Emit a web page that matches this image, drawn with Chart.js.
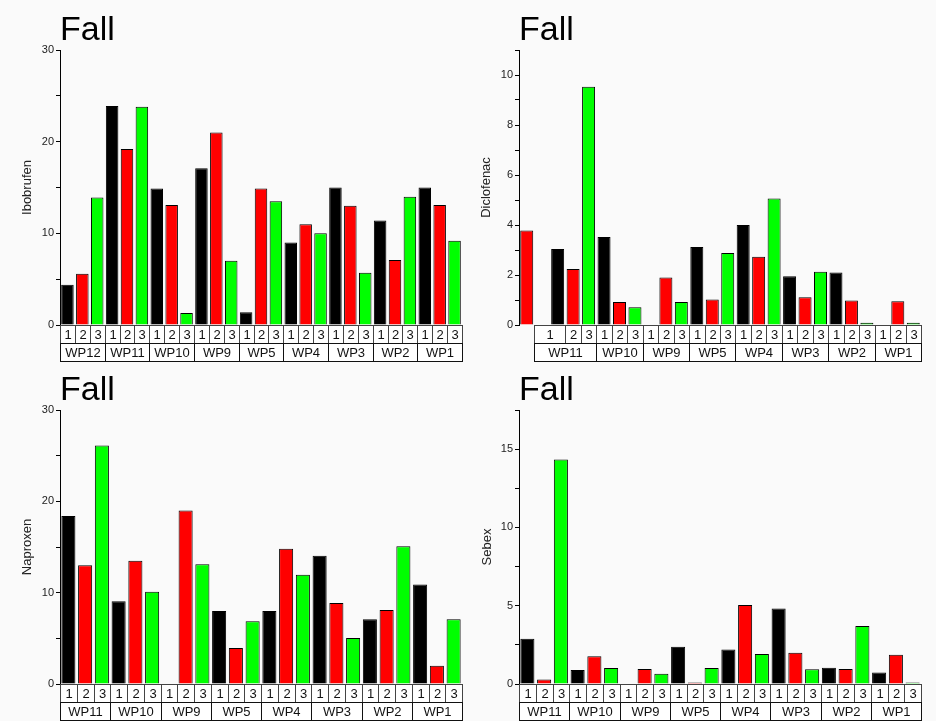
<!DOCTYPE html>
<html>
<head>
<meta charset="utf-8">
<script src="https://cdn.jsdelivr.net/npm/chart.js@4.4.1/dist/chart.umd.min.js"></script>
<style>
    body { margin: 0; background: #fafafa; }
    #page { position: relative; width: 936px; height: 721px; overflow: hidden; }
    canvas { position: absolute; }
</style>
</head>
<body>
<div id="page">
    <canvas id="ibuChart" width="470" height="362" style="left:0;top:0"></canvas>
    <canvas id="dicloChart" width="470" height="362" style="left:466px;top:0"></canvas>
    <canvas id="naproChart" width="470" height="361" style="left:0;top:360px"></canvas>
    <canvas id="sebexChart" width="470" height="361" style="left:466px;top:360px"></canvas>
</div>
<script>
// sampling sites and replicate numbers
var sites9 = ['WP12', 'WP11', 'WP10', 'WP9', 'WP5', 'WP4', 'WP3', 'WP2', 'WP1'];
var sites8 = ['WP11', 'WP10', 'WP9', 'WP5', 'WP4', 'WP3', 'WP2', 'WP1'];
var reps = ['1', '2', '3'];
var repColors = ['#000000', '#ff0000', '#00ff00'];

// values, three replicates per site, in the order of the sites
var ibuValues = [4.4, 5.6, 13.9, 23.9, 19.2, 23.8, 14.9, 13.1, 1.3, 17.1, 21.0, 7.0,
    1.4, 14.9, 13.5, 9.0, 11.0, 10.0, 15.0, 13.0, 5.7, 11.4, 7.1, 14.0, 15.0, 13.1, 9.2];
// two bars that stand in front of WP11 in the diclofenac plot
var dicloLead = [3.78, 0];
var dicloValues = [3.04, 2.24, 9.53, 3.52, 0.92, 0.71, 0, 1.90, 0.92, 3.12, 1.02, 2.88,
    4.0, 2.73, 5.06, 1.95, 1.11, 2.13, 2.10, 0.98, 0.09, 0, 0.95, 0.09];
var naproValues = [18.4, 13.0, 26.1, 9.05, 13.5, 10.1, 0, 19.0, 13.1, 8.0, 3.94, 6.86,
    8.0, 14.8, 11.97, 14.05, 8.87, 5.04, 7.08, 8.1, 15.07, 10.9, 2.0, 7.08];
var sebexValues = [2.89, 0.28, 14.34, 0.89, 1.77, 1.02, 0, 0.96, 0.66, 2.38, 0.09, 1.02,
    2.21, 5.04, 1.91, 4.83, 2.0, 0.94, 1.04, 0.96, 3.7, 0.74, 1.87, 0.09];

var fontFamily = '"Liberation Sans", Arial, sans-serif';

// label rows of the table below the bars
function repRow(sites){
    var row = [];
    for (var i = 0; i < sites.length; i++){
        for (var j = 0; j < reps.length; j++){
            row.push(reps[j]);
        }
    }
    return row;
}
function siteRow(sites){
    var row = [];
    for (var i = 0; i < sites.length; i++){
        for (var j = 0; j < reps.length; j++){
            row.push(sites[i]);
        }
    }
    return row;
}
function colorRow(n, offset){
    var row = [];
    for (var i = 0; i < n; i++){
        row.push(repColors[(i + offset) % 3]);
    }
    return row;
}

// find runs of equal labels (same label and same site) for merged cells
function runs(row, groups){
    var out = [];
    var start = 0;
    for (var i = 1; i <= row.length; i++){
        if (i == row.length || row[i] != row[start] || groups[i] != groups[start]){
            if (row[start] != ''){
                out.push({from: start, to: i - 1, text: row[start]});
            }
            start = i;
        }
    }
    return out;
}

// draws the two row category table under the x axis
var tablePlugin = {
    id: 'catTable',
    afterDraw: function(chart, args, opts){
        var ctx = chart.ctx;
        var xs = chart.scales.x;
        var n = opts.row1.length;
        var slot = xs.width / n;
        var top = chart.chartArea.bottom;
        var h = 18;
        var rows = [runs(opts.row1, opts.row2), runs(opts.row2, opts.row2)];
        ctx.save();
        ctx.font = '13px ' + fontFamily;
        ctx.textAlign = 'center';
        ctx.textBaseline = 'middle';
        for (var r = 0; r < 2; r++){
            var y = top + r * h;
            for (var k = 0; k < rows[r].length; k++){
                var cell = rows[r][k];
                var x0 = Math.round(xs.getPixelForValue(cell.from) - slot / 2) + 0.5;
                var x1 = Math.round(xs.getPixelForValue(cell.to) + slot / 2) + 0.5;
                ctx.fillStyle = '#ffffff';
                ctx.fillRect(x0, y, x1 - x0, h);
                ctx.strokeStyle = r == 0 ? '#444444' : '#111111';
                ctx.lineWidth = 1;
                ctx.strokeRect(x0, Math.round(y) + 0.5, x1 - x0, h);
                ctx.fillStyle = '#111111';
                ctx.fillText(cell.text, (x0 + x1) / 2, y + h / 2 + 1);
            }
        }
        ctx.restore();
    }
};

function makePanel(id, yTitle, values, row1, row2, colors, yMax, yStep, labelStep, sideWidth, padRight, titlePad){
    var ctx = document.getElementById(id).getContext('2d');
    var labels = [];
    for (var i = 0; i < values.length; i++){
        labels.push(i);
    }
    return new Chart(ctx, {
        type: 'bar',
        data: {
            labels: labels,
            datasets: [{
                data: values,
                backgroundColor: colors,
                borderColor: '#000000',
                borderWidth: 1,
                borderSkipped: 'bottom',
                barPercentage: 0.84,
                categoryPercentage: 1.0
            }]
        },
        options: {
            responsive: false,
            animation: false,
            layout: { padding: { left: 0, right: padRight, top: 0, bottom: 37 } },
            plugins: {
                legend: { display: false },
                tooltip: { enabled: false },
                title: {
                    display: true,
                    text: 'Fall',
                    align: 'start',
                    fullSize: false,
                    color: '#000000',
                    font: { family: fontFamily, size: 34, weight: 'normal', lineHeight: 1 },
                    padding: { top: 14, bottom: 2 }
                },
                catTable: { row1: row1, row2: row2 }
            },
            scales: {
                x: {
                    display: false,
                    offset: true
                },
                y: {
                    min: 0,
                    max: yMax,
                    border: { display: true, color: '#000000', width: 1 },
                    grid: { drawOnChartArea: false, drawTicks: true, tickLength: 4, color: '#000000' },
                    ticks: {
                        stepSize: yStep,
                        padding: 2,
                        color: '#222222',
                        font: { family: fontFamily, size: 11 },
                        callback: function(v){
                            var q = v / labelStep;
                            return Math.abs(q - Math.round(q)) < 1e-6 ? v : '';
                        }
                    },
                    title: {
                        display: true,
                        text: yTitle,
                        color: '#222222',
                        font: { family: fontFamily, size: 13 },
                        padding: { top: titlePad, bottom: 0 }
                    },
                    afterFit: function(scale){
                        scale.width = sideWidth;
                    }
                }
            }
        },
        plugins: [tablePlugin]
    });
}

// diclofenac has two extra slots in front, the first one has no table cell
var dicloAll = dicloLead.concat(dicloValues);
var dicloRow1 = ['', '1'].concat(repRow(sites8));
var dicloRow2 = ['', 'WP11'].concat(siteRow(sites8));

makePanel('ibuChart', 'Ibobrufen', ibuValues, repRow(sites9), siteRow(sites9),
    colorRow(ibuValues.length, 0), 30, 5, 10, 60, 8, 20);
makePanel('dicloChart', 'Diclofenac', dicloAll, dicloRow1, dicloRow2,
    colorRow(dicloAll.length, 1), 11, 1, 2, 53, 15, 13);
makePanel('naproChart', 'Naproxen', naproValues, repRow(sites8), siteRow(sites8),
    colorRow(naproValues.length, 0), 30, 5, 10, 60, 8, 20);
makePanel('sebexChart', 'Sebex', sebexValues, repRow(sites8), siteRow(sites8),
    colorRow(sebexValues.length, 0), 17.5, 2.5, 5, 53, 15, 14);
</script>
</body>
</html>
